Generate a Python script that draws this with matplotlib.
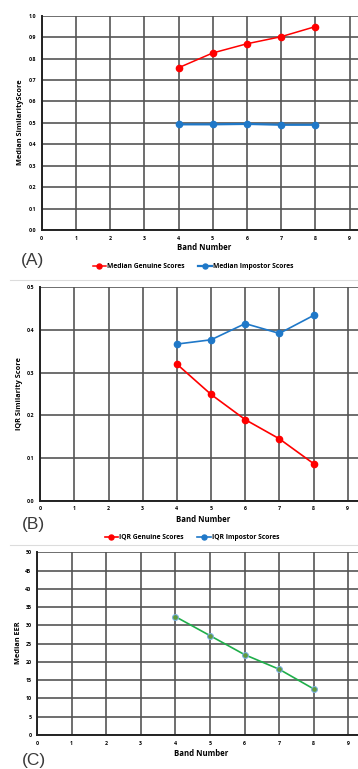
import matplotlib
matplotlib.use("Agg")
import matplotlib.pyplot as plt
import numpy as np

plt.rcParams['font.family'] = ['Open Sans', 'DejaVu Sans']

bands = [4, 5, 6, 7, 8]
median_genuine = [0.757, 0.826, 0.869, 0.902, 0.949]
median_impostor = [0.493, 0.493, 0.495, 0.491, 0.491]
iqr_genuine = [0.320, 0.249, 0.190, 0.145, 0.087]
iqr_impostor = [0.367, 0.377, 0.415, 0.392, 0.434]
median_eer = [32.4, 27.2, 22.0, 18.0, 12.6]

x_ticks = list(range(0, 10))
yticks_a = [0.0, 0.1, 0.2, 0.3, 0.4, 0.5, 0.6, 0.7, 0.8, 0.9, 1.0]
yticks_b = [0.0, 0.1, 0.2, 0.3, 0.4, 0.5]
yticks_c = [0, 5, 10, 15, 20, 25, 30, 35, 40, 45, 50]

W, H = 358, 769
fig = plt.figure(figsize=(W / 100, H / 100), dpi=100)

RED = '#ff0000'
BLUE = '#1f78c8'
GRID = '#555555'


def px_axes(left, top, right, bottom):
    return fig.add_axes([left / W, 1 - bottom / H, (right - left) / W, (bottom - top) / H])


def ftext(x, y, s, **kw):
    fig.text(x / W, 1 - y / H, s, **kw)


def style(ax, xmax, yticks, fmt):
    ax.set_xlim(0, xmax)
    ax.set_ylim(yticks[0], yticks[-1])
    ax.set_xticks(x_ticks)
    ax.set_yticks(yticks)
    ax.set_xticklabels([str(t) for t in x_ticks])
    ax.set_yticklabels([fmt.format(t) for t in yticks])
    ax.tick_params(length=0, labelsize=3.8, pad=4)
    for lab in ax.get_xticklabels() + ax.get_yticklabels():
        lab.set_fontweight('bold')
    ax.grid(True, color=GRID, linewidth=1.2)
    ax.set_axisbelow(True)
    for s in ['top', 'right']:
        ax.spines[s].set_visible(False)
    for s in ['left', 'bottom']:
        ax.spines[s].set_color('#222222')
        ax.spines[s].set_linewidth(1.4)
        ax.spines[s].set_zorder(5)


legend_kw = dict(loc='center', ncol=2, frameon=False, handlelength=2.0, handletextpad=0.15,
                 columnspacing=2.0, markerscale=0.8, prop={'weight': 'bold', 'size': 4.9})

# Panel A
axA = px_axes(41.7, 15.7, 358, 230)
style(axA, (358 - 41.7) / 34.2, yticks_a, '{:.1f}')
axA.plot(bands, median_genuine, color=RED, marker='o', markersize=4.5, linewidth=1.1,
         label='Median Genuine Scores', zorder=6)
axA.plot(bands, median_impostor, color=BLUE, marker='o', markersize=4.5, linewidth=1.6,
         label='Median Impostor Scores', zorder=6)
ftext(20.5, 122.5, 'Median SimilarityScore', rotation=90, ha='center', va='center',
      fontsize=5.3, fontweight='bold')
ftext(204, 248, 'Band Number', ha='center', va='center', fontsize=5.6, fontweight='bold')
ftext(33, 261, '(A)', ha='center', va='center', fontsize=12.5, color='#3a3a3a',
      family=['Liberation Sans', 'DejaVu Sans'])
hA, lA = axA.get_legend_handles_labels()
fig.legend(hA, lA, bbox_to_anchor=(193 / W, 1 - 267 / H), **legend_kw)
fig.add_artist(plt.Line2D([10 / W, 1], [1 - 280 / H, 1 - 280 / H], color='#dcdcdc', linewidth=0.8))

# Panel B
axB = px_axes(40.3, 287.3, 358, 500.7)
style(axB, (358 - 40.3) / 34.15, yticks_b, '{:.1f}')
axB.plot(bands, iqr_genuine, color=RED, marker='o', markersize=4.5, linewidth=1.2,
         label='IQR Genuine Scores', zorder=6)
axB.plot(bands, iqr_impostor, color=BLUE, marker='o', markersize=4.5, linewidth=1.2,
         label='IQR Impostor Scores', zorder=6)
ftext(20, 394, 'IQR Similarity Score', rotation=90, ha='center', va='center',
      fontsize=5.3, fontweight='bold')
ftext(203, 520, 'Band Number', ha='center', va='center', fontsize=5.6, fontweight='bold')
ftext(33, 524, '(B)', ha='center', va='center', fontsize=12.5, color='#3a3a3a',
      family=['Liberation Sans', 'DejaVu Sans'])
hB, lB = axB.get_legend_handles_labels()
fig.legend(hB, lB, bbox_to_anchor=(192 / W, 1 - 537.5 / H), **legend_kw)
fig.add_artist(plt.Line2D([10 / W, 1], [1 - 545 / H, 1 - 545 / H], color='#dcdcdc', linewidth=0.8))

# Panel C
axC = px_axes(37, 552.3, 358, 735)
style(axC, (358 - 37) / 34.59, yticks_c, '{:d}')
axC.plot(bands, median_eer, color='#1fae4a', marker='o', markersize=4.2, linewidth=1.2,
         markerfacecolor='#5f9a3c', markeredgecolor='#7ab0e0', markeredgewidth=0.8, zorder=6)
ftext(19, 643, 'Median EER', rotation=90, ha='center', va='center',
      fontsize=5.3, fontweight='bold')
ftext(201, 754, 'Band Number', ha='center', va='center', fontsize=5.6, fontweight='bold')
ftext(34, 760, '(C)', ha='center', va='center', fontsize=12.5, color='#3a3a3a',
      family=['Liberation Sans', 'DejaVu Sans'])

fig.savefig('out.png', dpi=100, facecolor='white')
